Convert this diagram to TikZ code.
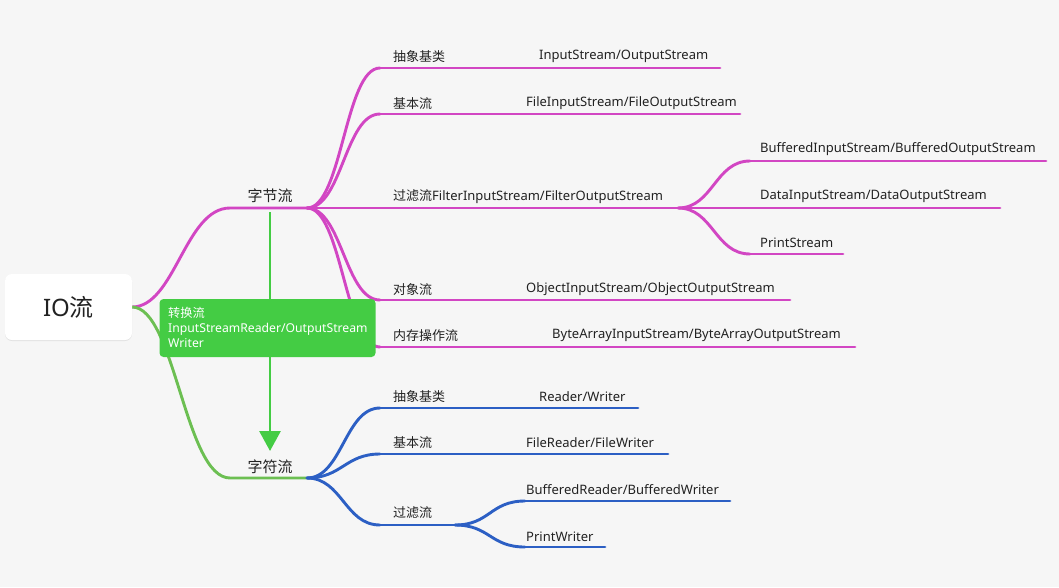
\documentclass[tikz,border=0pt]{standalone}
\usepackage{fontspec}
\setmainfont{Noto Sans}
\newfontfamily\cjk{Noto Sans CJK SC}
\usetikzlibrary{shadows,arrows.meta,calc}
\definecolor{bgc}{HTML}{F6F6F6}
\definecolor{pinkc}{HTML}{D246C3}
\definecolor{bluec}{HTML}{2C5FC4}
\definecolor{greenb}{HTML}{6CBF52}
\definecolor{greenbox}{HTML}{44CC44}
\definecolor{txt}{HTML}{222222}
\newcommand{\C}[1]{{\cjk #1}}
\tikzset{
  lbl/.style={anchor=west, inner sep=0pt, text=txt, font=\fontsize{13}{15}\selectfont},
  pk/.style={draw=pinkc, line width=2.9pt, line cap=round},
  bl/.style={draw=bluec, line width=2.9pt, line cap=round},
  gb/.style={draw=greenb, line width=2.9pt, line cap=round},
}
\newcommand{\br}[3]{\draw[#1] (#2) .. controls ($(#2)+(35,0)$) and ($(#3)+(-35,0)$) .. (#3);}
\begin{document}
\begin{tikzpicture}[x=1pt,y=-1pt]
\fill[bgc] (0,0) rectangle (1059,587);
\useasboundingbox (0,0) rectangle (1059,587);

% coordinates
\coordinate (io) at (132,307);
\coordinate (bS) at (230,208);
\coordinate (bE) at (307,208);
\coordinate (cS) at (230,478);
\coordinate (cE) at (307,478);

% byte stream children
\coordinate (b1) at (380,68);  \coordinate (b1e) at (720,68);
\coordinate (b2) at (380,114); \coordinate (b2e) at (740,114);
\coordinate (b3f) at (678,208);
\coordinate (b4) at (380,300); \coordinate (b4e) at (790,300);
\coordinate (b5) at (380,347); \coordinate (b5e) at (855,347);
\coordinate (f1) at (750,161); \coordinate (f1e) at (1046,161);
\coordinate (f2e) at (1000,208);
\coordinate (f3) at (750,254); \coordinate (f3e) at (843,254);

% char stream children
\coordinate (c1) at (380,408); \coordinate (c1e) at (638,408);
\coordinate (c2) at (380,454); \coordinate (c2e) at (668,454);
\coordinate (c3) at (380,525); \coordinate (c3f) at (455,525);
\coordinate (g1) at (525,501); \coordinate (g1e) at (730,501);
\coordinate (g2) at (525,547); \coordinate (g2e) at (605,547);

% main branches
\draw[pk] (io) .. controls (175,307) and (185,208) .. (bS) -- (bE);
\draw[gb] (io) .. controls (175,307) and (185,478) .. (cS) -- (cE);

% byte children
\br{pk}{bE}{b1} \draw[pk] (b1) -- (b1e);
\br{pk}{bE}{b2} \draw[pk] (b2) -- (b2e);
\draw[pk] (bE) -- (b3f);
\br{pk}{bE}{b4} \draw[pk] (b4) -- (b4e);
\br{pk}{bE}{b5} \draw[pk] (b5) -- (b5e);
\br{pk}{b3f}{f1} \draw[pk] (f1) -- (f1e);
\draw[pk] (b3f) -- (f2e);
\br{pk}{b3f}{f3} \draw[pk] (f3) -- (f3e);

% char children
\br{bl}{cE}{c1} \draw[bl] (c1) -- (c1e);
\br{bl}{cE}{c2} \draw[bl] (c2) -- (c2e);
\br{bl}{cE}{c3} \draw[bl] (c3) -- (c3f);
\br{bl}{c3f}{g1} \draw[bl] (g1) -- (g1e);
\br{bl}{c3f}{g2} \draw[bl] (g2) -- (g2e);

% root node
\node[draw=none, fill=white, rounded corners=7pt, minimum width=127pt, minimum height=66pt,
  drop shadow={shadow xshift=0pt, shadow yshift=-1pt, opacity=0.08, fill=black}]
  (root) at (68.5,307) {\fontsize{24}{28}\selectfont\color{txt}IO\C{流}};

% level-1 labels
\node[lbl, anchor=center, font=\fontsize{15}{17}\selectfont] (byte) at (270,196) {\C{字节流}};
\node[lbl, anchor=center, font=\fontsize{15}{17}\selectfont] (char) at (270,467) {\C{字符流}};

% conversion arrow
\coordinate (arS) at (270,212);
\coordinate (arE) at (270,451);
\draw[draw=greenbox, line width=2.9pt, -{Triangle[width=21pt,length=20pt]}] (arS) -- (arE);

% green box
\node[fill=greenbox, rounded corners=4pt, minimum width=216pt, minimum height=58pt, inner sep=0pt] (conv) at (267.5,328) {};
\node[anchor=north west, inner sep=0pt, text=white, align=left, font=\fontsize{12.2}{15}\selectfont] (convt) at (168,307.5)
  {\C{转换流}\\InputStreamReader/OutputStream\\Writer};

% byte labels
\node[lbl] (l1) at (393,56.5) {\C{抽象基类}};
\node[lbl] (l1b) at (539,56.5) {InputStream/OutputStream};
\node[lbl] (l2) at (393,103.5) {\C{基本流}};
\node[lbl] (l2b) at (526,103.5) {FileInputStream/FileOutputStream};
\node[lbl] (l3) at (393,196.5) {\C{过滤流}FilterInputStream/FilterOutputStream};
\node[lbl] (l4) at (393,289.5) {\C{对象流}};
\node[lbl] (l4b) at (526,289.5) {ObjectInputStream/ObjectOutputStream};
\node[lbl] (l5) at (393,335.5) {\C{内存操作流}};
\node[lbl] (l5b) at (552,335.5) {ByteArrayInputStream/ByteArrayOutputStream};
\node[lbl] (m1) at (760,149.5) {BufferedInputStream/BufferedOutputStream};
\node[lbl] (m2) at (760,196.5) {DataInputStream/DataOutputStream};
\node[lbl] (m3) at (760,242.5) {PrintStream};

% char labels
\node[lbl] (k1) at (393,396.5) {\C{抽象基类}};
\node[lbl] (k1b) at (539,396.5) {Reader/Writer};
\node[lbl] (k2) at (393,442.5) {\C{基本流}};
\node[lbl] (k2b) at (526,442.5) {FileReader/FileWriter};
\node[lbl] (k3) at (393,513) {\C{过滤流}};
\node[lbl] (n1) at (526,489.5) {BufferedReader/BufferedWriter};
\node[lbl] (n2) at (526,536.5) {PrintWriter};
\end{tikzpicture}
\end{document}
